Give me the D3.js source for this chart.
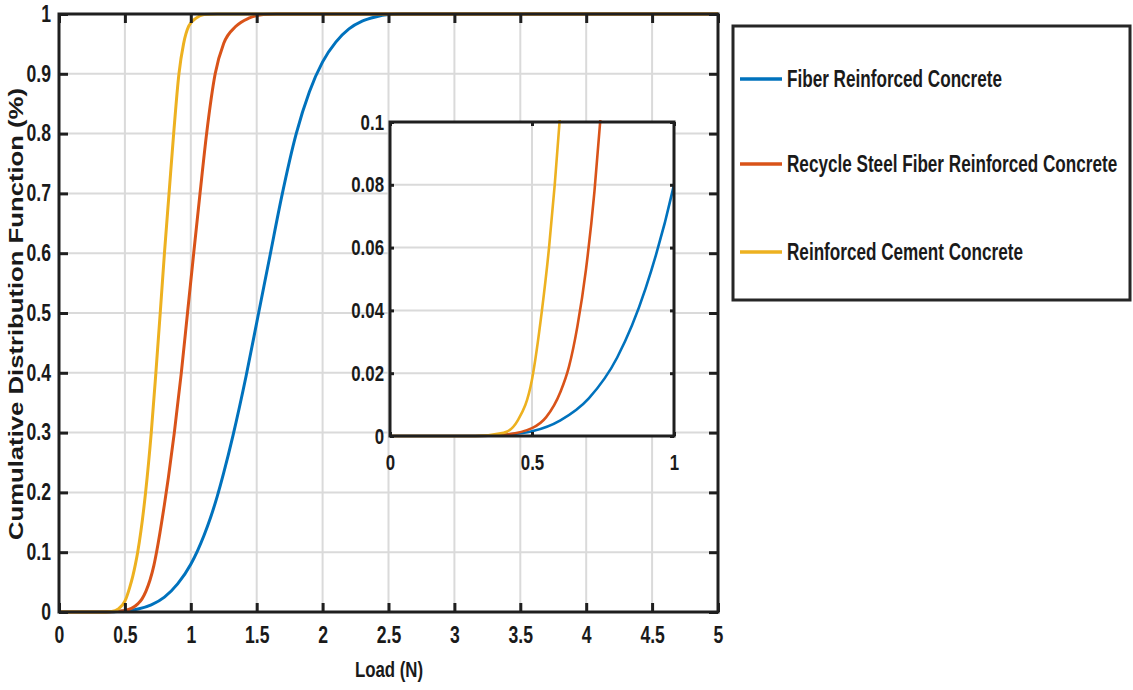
<!DOCTYPE html>
<html>
<head>
<meta charset="utf-8">
<script src="https://cdn.jsdelivr.net/npm/d3@7"></script>
<style>
  html, body { margin: 0; padding: 0; background: #fff; }
  svg { display: block; }
  .tick-lbl { font-family: "Liberation Sans", Arial, sans-serif; font-weight: bold; fill: #1a1a1a; }
</style>
</head>
<body>
<svg id="chart" width="1133" height="690"></svg>
<script>
// ---------------- DATA ----------------
const seriesNames = ["Fiber Reinforced Concrete", "Recycle Steel Fiber Reinforced Concrete", "Reinforced Cement Concrete"];
const seriesColors = ["#0072BD", "#D95319", "#EDB120"];

const fiberX = [0, 0.3, 0.4, 0.5, 0.6, 0.7, 0.8, 0.9, 1.0, 1.05, 1.1, 1.15, 1.2, 1.25, 1.32, 1.42, 1.51, 1.6, 1.69, 1.8, 1.9, 2.0, 2.1, 2.2, 2.3, 2.4, 2.5, 2.6, 5];
const fiberY = [0, 0, 0.0004, 0.0015, 0.005, 0.012, 0.025, 0.047, 0.08, 0.102, 0.128, 0.158, 0.193, 0.233, 0.295, 0.395, 0.495, 0.595, 0.695, 0.8, 0.87, 0.92, 0.953, 0.975, 0.988, 0.995, 0.999, 1, 1];

const recycleX = [0, 0.3, 0.4, 0.5, 0.55, 0.6, 0.63, 0.66, 0.69, 0.72, 0.74, 0.8, 0.83, 0.875, 0.928, 0.975, 1.022, 1.07, 1.12, 1.185, 1.25, 1.34, 1.44, 1.55, 1.65, 5];
const recycleY = [0, 0, 0.0004, 0.0025, 0.006, 0.014, 0.022, 0.035, 0.053, 0.078, 0.1, 0.18, 0.225, 0.3, 0.4, 0.5, 0.6, 0.7, 0.8, 0.9, 0.951, 0.979, 0.993, 0.999, 1, 1];

const cementX = [0, 0.3, 0.4, 0.45, 0.5, 0.535, 0.56, 0.58, 0.597, 0.657, 0.7, 0.735, 0.768, 0.8, 0.835, 0.87, 0.91, 0.945, 0.985, 1.04, 1.1, 1.2, 5];
const cementY = [0, 0, 0.001, 0.005, 0.018, 0.04, 0.06, 0.08, 0.1, 0.2, 0.3, 0.4, 0.5, 0.6, 0.7, 0.8, 0.9, 0.95, 0.98, 0.993, 0.999, 1, 1];

const mainXTicks = [0, 0.5, 1, 1.5, 2, 2.5, 3, 3.5, 4, 4.5, 5];
const mainYTicks = [0, 0.1, 0.2, 0.3, 0.4, 0.5, 0.6, 0.7, 0.8, 0.9, 1];
const insetXTicks = [0, 0.5, 1];
const insetYTicks = [0, 0.02, 0.04, 0.06, 0.08, 0.1];

const xLabel = "Load (N)";
const yLabel = "Cumulative Distribution Function (%)";

// ---------------- DRAW ----------------
const svg = d3.select("#chart");
const series = [
  { name: seriesNames[0], color: seriesColors[0], pts: fiberX.map((x, i) => [x, fiberY[i]]) },
  { name: seriesNames[1], color: seriesColors[1], pts: recycleX.map((x, i) => [x, recycleY[i]]) },
  { name: seriesNames[2], color: seriesColors[2], pts: cementX.map((x, i) => [x, cementY[i]]) }
];

const NARROW = 0.765;
function narrow(sel, f) {
  sel.each(function () {
    const w = this.getComputedTextLength();
    d3.select(this).attr("textLength", w * f).attr("lengthAdjust", "spacingAndGlyphs");
  });
}

const fmt = d => String(+d.toFixed(3));

function drawGrid(g, x, y, xt, yt) {
  const [x0, x1] = x.range();
  const [y0, y1] = y.range();
  g.append("rect").attr("x", x0).attr("y", y1).attr("width", x1 - x0).attr("height", y0 - y1).attr("fill", "#fff");
  const grid = g.append("g").attr("stroke", "#dadada").attr("stroke-width", 2);
  grid.selectAll(".gx").data(xt).join("line")
    .attr("x1", d => x(d)).attr("x2", d => x(d)).attr("y1", y0).attr("y2", y1);
  grid.selectAll(".gy").data(yt).join("line")
    .attr("y1", d => y(d)).attr("y2", d => y(d)).attr("x1", x0).attr("x2", x1);
}

function drawFrame(g, x, y, xt, yt, opts) {
  const [x0, x1] = x.range();
  const [y0, y1] = y.range();
  const axB = d3.axisBottom(x).tickValues(xt).tickSize(-opts.tick).tickPadding(opts.xPad).tickFormat(fmt);
  const axT = d3.axisTop(x).tickValues(xt).tickSize(-opts.tick).tickFormat("");
  const axL = d3.axisLeft(y).tickValues(yt).tickSize(-opts.tick).tickPadding(opts.yPad).tickFormat(fmt);
  const axR = d3.axisRight(y).tickValues(yt).tickSize(-opts.tick).tickFormat("");
  const style = sel => {
    sel.selectAll(".domain").remove();
    sel.selectAll(".tick line").attr("stroke", "#1f1f1f").attr("stroke-width", opts.tickW);
    sel.selectAll(".tick text").attr("class", "tick-lbl").style("font-size", opts.font + "px").call(narrow, NARROW);
  };
  g.append("g").attr("transform", `translate(0,${y0})`).call(axB).call(style);
  g.append("g").attr("transform", `translate(0,${y1})`).call(axT).call(style);
  g.append("g").attr("transform", `translate(${x0},0)`).call(axL).call(style);
  g.append("g").attr("transform", `translate(${x1},0)`).call(axR).call(style);
  g.append("rect").attr("x", x0).attr("y", y1).attr("width", x1 - x0).attr("height", y0 - y1)
    .attr("fill", "none").attr("stroke", "#1f1f1f").attr("stroke-width", opts.frameW);
}

function drawLines(g, x, y, clipId, width) {
  const [x0, x1] = x.range();
  const [y0, y1] = y.range();
  svg.append("defs").append("clipPath").attr("id", clipId)
    .append("rect").attr("x", x0).attr("y", y1 - 2).attr("width", x1 - x0).attr("height", y0 - y1 + 4);
  const line = d3.line().x(d => x(d[0])).y(d => y(d[1])).curve(d3.curveMonotoneX);
  g.append("g").attr("clip-path", `url(#${clipId})`)
    .selectAll("path").data(series).join("path")
    .attr("d", d => line(d.pts)).attr("fill", "none")
    .attr("stroke", d => d.color).attr("stroke-width", width)
    .attr("stroke-linejoin", "round").attr("stroke-linecap", "round");
}

// Main axes
const xMain = d3.scaleLinear().domain([0, 5]).range([59, 718]);
const yMain = d3.scaleLinear().domain([0, 1]).range([612, 14]);
const gMain = svg.append("g");
drawGrid(gMain, xMain, yMain, mainXTicks, mainYTicks);
drawLines(gMain, xMain, yMain, "clipMain", 3);
drawFrame(gMain, xMain, yMain, mainXTicks, mainYTicks, { tick: 9, tickW: 3, xPad: 15, yPad: 8, font: 23, frameW: 3 });

// Axis titles
svg.append("text").attr("x", 389).attr("y", 677).attr("text-anchor", "middle")
  .attr("class", "tick-lbl").style("font-size", "22px").text(xLabel).call(narrow, NARROW);
svg.append("text").attr("transform", "translate(23,314) rotate(-90)").attr("text-anchor", "middle")
  .attr("class", "tick-lbl").style("font-size", "20px").text(yLabel)
  .attr("textLength", 452).attr("lengthAdjust", "spacingAndGlyphs");

// Inset axes
const xIn = d3.scaleLinear().domain([0, 1]).range([390, 674]);
const yIn = d3.scaleLinear().domain([0, 0.1]).range([436, 122]);
const gIn = svg.append("g");
drawGrid(gIn, xIn, yIn, insetXTicks, insetYTicks);
drawLines(gIn, xIn, yIn, "clipInset", 2.6);
drawFrame(gIn, xIn, yIn, insetXTicks, insetYTicks, { tick: 4, tickW: 3, xPad: 18, yPad: 6, font: 22, frameW: 3 });

// Legend
const lg = svg.append("g");
lg.append("rect").attr("x", 733).attr("y", 26).attr("width", 397).attr("height", 274)
  .attr("fill", "#fff").attr("stroke", "#262626").attr("stroke-width", 3);
const legY = [79, 164, 252];
const items = lg.selectAll(".item").data(series).join("g")
  .attr("transform", (d, i) => `translate(0,${legY[i]})`);
items.append("line").attr("x1", 740).attr("x2", 782).attr("y1", 0).attr("y2", 0)
  .attr("stroke", d => d.color).attr("stroke-width", 3.5);
items.append("text").attr("transform", "translate(787,8) scale(0.745,1)").attr("class", "tick-lbl")
  .style("font-size", "23px").text(d => d.name);
</script>
</body>
</html>
